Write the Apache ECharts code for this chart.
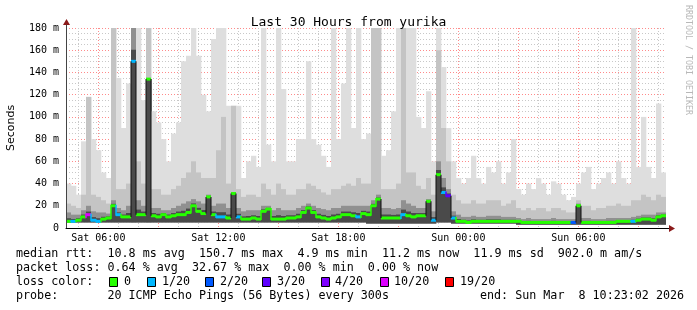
<!DOCTYPE html>
<html><head><meta charset="utf-8">
<script src="https://cdn.jsdelivr.net/npm/echarts@6/dist/echarts.min.js"></script>
<style>html,body{margin:0;padding:0;background:#fff}#c{width:697px;height:310px}</style>
</head><body><div id="c"></div>
<script>
// ---- data (15-minute slices, Sat 04:23:02 .. Sun 10:23:02) ----
const startHour = 4 + 23/60 + 2/3600;   // hours since Sat 00:00
const stepHours = 0.25;
const maxPing = [40,38,30,78,118,80,70,50,45,180, 135,90,130,180,180,115,180,105,95,80,
  60,85,95,150,155,180,155,120,105,170, 180,180,110,110,110,45,60,65,55,180,
  75,60,180,125,60,60,80,80,150,80, 75,65,55,180,80,130,180,90,180,80,
  85,180,180,65,70,105,180,180,180,180, 100,90,123,60,180,145,90,60,45,40,
  45,65,45,40,55,50,60,40,50,80, 35,30,40,35,45,40,30,42,40,30,
  25,28,40,50,55,35,40,45,50,40, 60,45,40,180,55,100,55,45,112,50];
const p90 = [22,20,18,30,118,30,28,25,22,180, 35,35,40,180,60,40,180,35,35,30,
  30,35,38,45,50,60,50,45,45,45, 70,100,40,110,35,28,30,30,28,40,
  35,30,40,35,30,30,35,35,40,38, 35,32,30,35,35,38,40,38,45,40,
  40,180,180,35,35,35,40,180,50,50, 38,35,45,30,160,90,60,30,25,22,
  22,25,22,22,25,25,25,20,22,25, 18,16,18,16,18,18,15,18,18,16,
  14,14,25,20,20,16,18,18,20,20, 22,20,20,25,25,30,28,25,30,28];
const p75 = [14,12,12,16,20,15,14,14,13,25, 18,16,20,180,25,20,134,18,18,16,
  16,18,20,22,24,26,24,22,30,20, 22,22,18,32,18,15,16,16,16,20,
  20,16,18,16,16,16,18,20,22,20, 18,17,16,18,18,20,20,20,20,20,
  20,25,30,18,18,17,18,25,22,20, 18,18,26,15,60,45,35,15,12,10,
  10,11,10,10,11,11,11,10,10,10, 9,8,9,8,8,8,8,9,8,8,
  8,8,22,9,9,8,8,8,9,9, 9,9,9,10,11,12,12,12,14,14];
const median = [6,6,7,10,12,7,6,8,9,20, 12,10,10,150,12,12,134,11,10,12,
  10,11,12,12,14,20,15,13,28,12, 10,10,9,31,10,8,8,9,8,15,
  17,8,8,8,9,9,10,14,18,14, 10,9,8,9,10,12,12,11,10,13,
  12,20,26,9,9,9,9,12,11,10, 11,11,24,7,48,32,29,9,6,6,
  5,6,6,6,6,6,6,6,6,6, 6,5,5,5,5,5,5,5,5,5,
  5,5,20,5,5,5,5,5,5,5, 6,6,6,6,7,8,8,7,10,11];
const minPing = [5,5,5,5,5,5,5,5,5,5, 5,5,5,5,5,5,5,5,5,5,
  5,5,5,5,5,5,5,5,5,5, 5,5,5,5,5,5,5,5,5,5,
  5,5,5,5,5,5,5,5,5,5, 5,5,5,5,5,5,5,5,5,5,
  4,4,4,4,4,4,4,4,4,4, 4,4,4,4,5,5,5,4,4,4,
  4,4,4,4,4,4,4,4,4,4, 3,3,3,3,3,3,3,3,3,3,
  3,3,3,3,3,3,3,3,3,3, 3,3,3,3,3,3,3,3,3,3];
// index into lossLabels / lossColors
const lossIdx = [0,1,0,0,5,1,1,0,0,0, 1,0,0,1,0,0,0,0,0,0,
  0,0,0,0,0,0,0,0,0,0, 1,1,0,0,1,0,0,0,0,0,
  0,0,0,0,0,0,0,0,0,0, 0,0,0,0,0,0,0,0,1,0,
  0,0,0,0,0,0,0,1,0,0, 0,0,0,1,0,1,3,1,0,0,
  0,0,0,0,0,0,0,0,0,0, 0,0,0,0,0,0,0,0,0,0,
  0,2,0,0,0,0,0,0,0,0, 0,0,0,1,0,0,0,0,0,0];
const lossLabels = ['0','1/20','2/20','3/20','4/20','10/20','19/20'];
const lossColors = ['#26ff00','#00b8ff','#0059ff','#5e00ff','#7e00ff','#dd00ff','#ff0000'];
const xLabelHours = [6,12,18,24,30];
const xLabels = ['Sat 06:00','Sat 12:00','Sat 18:00','Sun 00:00','Sun 06:00'];
const legendLines = [
  'median rtt:  10.8 ms avg  150.7 ms max  4.9 ms min  11.2 ms now  11.9 ms sd  902.0 m am/s',
  'packet loss: 0.64 % avg  32.67 % max  0.00 % min  0.00 % now'
];
const probeText = 'probe:       20 ICMP Echo Pings (56 Bytes) every 300s';
const endText = 'end: Sun Mar  8 10:23:02 2026';

// ---- build ----
const xMin = startHour, xMax = startHour + 30;
const hourTicks = []; for (let h = 5; h <= 34; h++) hourTicks.push(h);
const majorTicks = []; for (let h = 6; h <= 34; h += 3) majorTicks.push(h);
const tOf = i => startHour + (i + 0.5) * stepHours;
const smokeData = maxPing.map((v, i) => [tOf(i), minPing[i], p75[i], p90[i], v, median[i]]);
const medData = median.map((m, i) => [tOf(i), m, lossIdx[i], i > 0 ? median[i-1] : m]);

const MONO = 'DejaVu Sans Mono';
const GRID = {left: 66, top: 28, width: 600, height: 200};

function renderSmoke(params, api) {
  const t = api.value(0);
  const w = api.size([stepHours, 0])[0];
  const x0 = api.coord([t - stepHours/2, 0])[0];
  const yOf = v => api.coord([t, v])[1];
  const rect = (lo, hi, color) => ({type: 'rect',
    shape: {x: x0, y: yOf(hi), width: w + 0.3, height: yOf(lo) - yOf(hi)},
    style: {fill: color}});
  const lo = api.value(1), q75 = api.value(2), q90 = api.value(3), mx = api.value(4), md = api.value(5);
  return {type: 'group', children: [
    rect(lo, mx, '#dedede'),
    rect(lo, q90, '#c4c4c4'),
    rect(lo, q75, '#909090'),
    rect(lo, Math.min(q75, md + (q75 - md) * 0.35), '#4a4a4a')
  ]};
}
function renderMedian(params, api) {
  const t = api.value(0), m = api.value(1), loss = api.value(2), prev = api.value(3);
  const w = api.size([stepHours, 0])[0];
  const x0 = api.coord([t - stepHours/2, m])[0];
  const y = api.coord([t, m])[1];
  const yp = api.coord([t, prev])[1];
  const c = lossColors[loss];
  const kids = [{type: 'rect', shape: {x: x0, y: y - 1.5, width: w, height: 3}, style: {fill: c}}];
  if (Math.abs(y - yp) < 14) {
    kids.push({type: 'rect', shape: {x: x0 - 0.75, y: Math.min(y, yp) - 1, width: 1.5, height: Math.abs(y - yp) + 2}, style: {fill: c}});
  } else {
    kids.push({type: 'rect', shape: {x: x0 - 0.5, y: Math.min(y, yp), width: 1, height: Math.abs(y - yp)}, style: {fill: '#111'}});
  }
  return {type: 'group', children: kids};
}

const hiddenX = (extra) => Object.assign({type: 'value', min: xMin, max: xMax, gridIndex: 0, position: 'bottom', offset: 0,
  axisLine: {show: false}, axisTick: {show: false}, axisLabel: {show: false}, splitLine: {show: false}}, extra);
const hiddenY = (extra) => Object.assign({type: 'value', min: 0, max: 180, gridIndex: 0, position: 'left', offset: 0,
  axisLine: {show: false}, axisTick: {show: false}, axisLabel: {show: false}, splitLine: {show: false}}, extra);

const legendGraphics = [];
legendLines.forEach((s, k) => legendGraphics.push({type: 'text', x: 16, y: 254 + 14*k,
  style: {text: s, fontFamily: MONO, fontSize: 11.7, fill: '#000', verticalAlign: 'middle'}}));
legendGraphics.push({type: 'text', x: 16, y: 282,
  style: {text: 'loss color:', fontFamily: MONO, fontSize: 11.7, fill: '#000', verticalAlign: 'middle'}});
const sqX = [109,147,205,262,321,380,445];
const lblX = [124,162,220,277,335,394,460];
lossLabels.forEach((l, k) => {
  legendGraphics.push({type: 'rect', shape: {x: sqX[k] + 0.5, y: 277.5, width: 8, height: 9},
    style: {fill: lossColors[k], stroke: '#000', lineWidth: 1}});
  legendGraphics.push({type: 'text', x: lblX[k], y: 282,
    style: {text: l, fontFamily: MONO, fontSize: 11.7, fill: '#000', verticalAlign: 'middle'}});
});
legendGraphics.push({type: 'text', x: 16, y: 296,
  style: {text: probeText, fontFamily: MONO, fontSize: 11.7, fill: '#000', verticalAlign: 'middle'}});
legendGraphics.push({type: 'text', x: 480, y: 296,
  style: {text: endText, fontFamily: MONO, fontSize: 11.7, fill: '#000', verticalAlign: 'middle'}});

const option = {
  animation: false,
  backgroundColor: '#ffffff',
  title: {text: 'Last 30 Hours from yurika', left: 'center', top: 11,
    textStyle: {fontFamily: MONO, fontSize: 13, fontWeight: 'normal', color: '#000'}},
  grid: GRID,
  xAxis: [
    hiddenX({z: 0, splitLine: {show: true, lineStyle: {color: '#c8c8c8', type: [1, 2], width: 1}},
      axisTick: {show: false, customValues: hourTicks}}),
    hiddenX({z: 0, splitLine: {show: true, lineStyle: {color: '#ff8a8a', type: [1, 2], width: 1}},
      axisTick: {show: false, customValues: majorTicks}}),
    hiddenX({z: 10, axisLine: {show: true, onZero: false, lineStyle: {color: '#000', width: 1}},
      axisTick: {show: false, customValues: xLabelHours},
      axisLabel: {show: true, customValues: xLabelHours, margin: 5,
        formatter: v => xLabels[xLabelHours.indexOf(Math.round(v))] || '',
        fontFamily: MONO, fontSize: 10, color: '#000'}})
  ],
  yAxis: [
    hiddenY({z: 0, interval: 5, splitLine: {show: true, lineStyle: {color: '#c8c8c8', type: [1, 2], width: 1}}}),
    hiddenY({z: 0, interval: 20, splitLine: {show: true, lineStyle: {color: '#ff8a8a', type: [1, 2], width: 1}}}),
    hiddenY({z: 10, interval: 20, axisLine: {show: true, onZero: false, lineStyle: {color: '#444', width: 1}},
      axisLabel: {show: true, margin: 7, fontFamily: MONO, fontSize: 10, color: '#000',
        formatter: v => v === 0 ? '0' : v + ' m'}})
  ],
  series: [
    {type: 'custom', xAxisIndex: 0, yAxisIndex: 0, renderItem: renderSmoke, data: smokeData,
      encode: {x: 0, y: [1, 4]}, clip: true, z: 2},
    {type: 'custom', xAxisIndex: 0, yAxisIndex: 0, renderItem: renderMedian, data: medData,
      encode: {x: 0, y: 1}, clip: true, z: 3}
  ],
  graphic: [
    {type: 'line', shape: {x1: 66.5, y1: 28, x2: 66.5, y2: 22}, style: {stroke: '#444', lineWidth: 1}},
    {type: 'polygon', shape: {points: [[63, 25], [70, 25], [66.5, 19]]}, style: {fill: '#8b1a1a'}},
    {type: 'line', shape: {x1: 666, y1: 228.5, x2: 670, y2: 228.5}, style: {stroke: '#000', lineWidth: 1}},
    {type: 'polygon', shape: {points: [[669, 225], [669, 232], [675, 228.5]]}, style: {fill: '#8b1a1a'}},
    {type: 'text', x: 11, y: 128, rotation: Math.PI/2,
      style: {text: 'Seconds', fontFamily: 'DejaVu Sans', fontSize: 11, fill: '#000', align: 'center', verticalAlign: 'middle'}},
    {type: 'text', x: 688, y: 60, rotation: -Math.PI/2,
      style: {text: 'RRDTOOL / TOBI OETIKER', fontFamily: MONO, fontSize: 8.3, fill: '#b8b8b8', align: 'center', verticalAlign: 'middle'}}
  ].concat(legendGraphics)
};
const chart = echarts.init(document.getElementById('c'), null, {renderer: 'canvas', width: 697, height: 310});
chart.setOption(option);
</script></body></html>
